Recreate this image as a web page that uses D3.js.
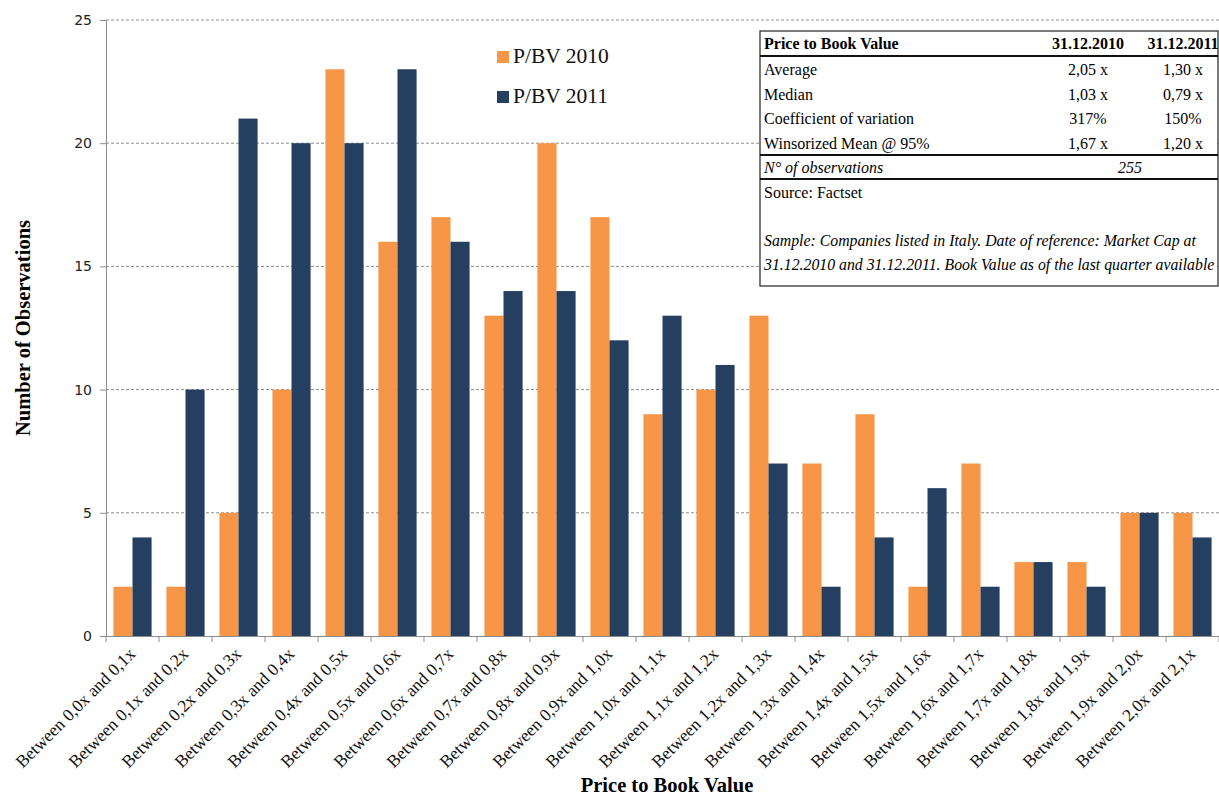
<!DOCTYPE html>
<html>
<head>
<meta charset="utf-8">
<script src="https://cdn.jsdelivr.net/npm/d3@7"></script>
<style>
  body { margin: 0; background: #fff; }
  svg { display: block; }
</style>
</head>
<body>
<svg id="chart"></svg>
<script>
var width = 1219,
    height = 796,
    margin = {top: 20, right: 0, bottom: 160, left: 106};

var categories = ["Between 0,0x and 0,1x", "Between 0,1x and 0,2x", "Between 0,2x and 0,3x",
  "Between 0,3x and 0,4x", "Between 0,4x and 0,5x", "Between 0,5x and 0,6x", "Between 0,6x and 0,7x",
  "Between 0,7x and 0,8x", "Between 0,8x and 0,9x", "Between 0,9x and 1,0x", "Between 1,0x and 1,1x",
  "Between 1,1x and 1,2x", "Between 1,2x and 1,3x", "Between 1,3x and 1,4x", "Between 1,4x and 1,5x",
  "Between 1,5x and 1,6x", "Between 1,6x and 1,7x", "Between 1,7x and 1,8x", "Between 1,8x and 1,9x",
  "Between 1,9x and 2,0x", "Between 2,0x and 2,1x"];
var pbv2010 = [2, 2, 5, 10, 23, 16, 17, 13, 20, 17, 9, 10, 13, 7, 9, 2, 7, 3, 3, 5, 5];
var pbv2011 = [4, 10, 21, 20, 20, 23, 16, 14, 14, 12, 13, 11, 7, 2, 4, 6, 2, 3, 2, 5, 4];
var seriesNames = ["P/BV 2010", "P/BV 2011"];
var seriesColors = ["#F79646", "#243F60"];
var yTicks = [0, 5, 10, 15, 20, 25];

var tableHeader = ["Price to Book Value", "31.12.2010", "31.12.2011"];
var tableRows = [
  ["Average", "2,05 x", "1,30 x"],
  ["Median", "1,03 x", "0,79 x"],
  ["Coefficient of variation", "317%", "150%"],
  ["Winsorized Mean @ 95%", "1,67 x", "1,20 x"]
];
var observations = "255";
var sourceNote = "Source: Factset";
var sampleNote = ["Sample: Companies listed in Italy. Date of reference: Market Cap at",
  "31.12.2010 and 31.12.2011. Book Value as of the last quarter available"];

var serif = "'Liberation Serif', 'DejaVu Serif', serif";
var sans = "'DejaVu Sans', Verdana, sans-serif";

var svg = d3.select("#chart").attr("width", width).attr("height", height);

var x0 = d3.scaleBand().domain(categories)
  .range([margin.left, width - margin.right]).paddingInner(0.28).paddingOuter(0.14);
var x1 = d3.scaleBand().domain([0, 1]).range([0, x0.bandwidth()]);
var y = d3.scaleLinear().domain([0, 25]).range([height - margin.bottom, margin.top]);
var xCat = d3.scaleBand().domain(categories).range([margin.left, width - margin.right]);

// gridlines
svg.append("g").selectAll("line")
  .data(yTicks.filter(function(d) { return d > 0; }))
  .enter().append("line")
  .attr("x1", margin.left).attr("x2", width - margin.right)
  .attr("y1", function(d) { return y(d); }).attr("y2", function(d) { return y(d); })
  .attr("stroke", "#8c8c8c").attr("stroke-width", 1).attr("stroke-dasharray", "3,2");

// bars
var groups = svg.append("g").selectAll("g")
  .data(categories)
  .enter().append("g")
  .attr("transform", function(d) { return "translate(" + x0(d) + ",0)"; });
groups.selectAll("rect")
  .data(function(d, i) { return [pbv2010[i], pbv2011[i]]; })
  .enter().append("rect")
  .attr("x", function(d, i) { return x1(i); })
  .attr("y", function(d) { return y(d); })
  .attr("width", x1.bandwidth())
  .attr("height", function(d) { return y(0) - y(d); })
  .attr("fill", function(d, i) { return seriesColors[i]; });

// y axis
var yAxis = svg.append("g")
  .attr("transform", "translate(" + margin.left + ",0)")
  .call(d3.axisLeft(y).tickValues(yTicks).tickSize(6).tickPadding(8));
yAxis.select(".domain").attr("stroke", "#8c8c8c");
yAxis.selectAll(".tick line").attr("stroke", "#8c8c8c");
yAxis.selectAll(".tick text").attr("font-family", sans).attr("font-size", 14).attr("fill", "#222");

// x axis
var xAxis = svg.append("g")
  .attr("transform", "translate(0," + y(0) + ")")
  .call(d3.axisBottom(xCat).tickSize(0).tickFormat(""));
xAxis.select(".domain").attr("stroke", "#8c8c8c");
svg.append("g").selectAll("line")
  .data(d3.range(categories.length + 1))
  .enter().append("line")
  .attr("x1", function(d) { return margin.left + d * xCat.step(); })
  .attr("x2", function(d) { return margin.left + d * xCat.step(); })
  .attr("y1", y(0)).attr("y2", y(0) + 6)
  .attr("stroke", "#8c8c8c");

svg.append("g").selectAll("text")
  .data(categories)
  .enter().append("text")
  .attr("transform", function(d) {
    return "translate(" + (xCat(d) + xCat.bandwidth() / 2 + 4) + "," + (y(0) + 19) + ") rotate(-45)";
  })
  .attr("text-anchor", "end")
  .attr("font-family", serif).attr("font-size", 17.5).attr("fill", "#111")
  .text(function(d) { return d; });

// axis titles
svg.append("text")
  .attr("transform", "translate(30," + ((margin.top + y(0)) / 2) + ") rotate(-90)")
  .attr("text-anchor", "middle")
  .attr("font-family", serif).attr("font-size", 20.5).attr("font-weight", "bold")
  .text("Number of Observations");
svg.append("text")
  .attr("x", 667).attr("y", 792)
  .attr("text-anchor", "middle")
  .attr("font-family", serif).attr("font-size", 20.5).attr("font-weight", "bold")
  .text("Price to Book Value");

// legend
var legend = svg.append("g").selectAll("g")
  .data(seriesNames)
  .enter().append("g")
  .attr("transform", function(d, i) { return "translate(497," + (51 + i * 40) + ")"; });
legend.append("rect").attr("width", 12).attr("height", 12)
  .attr("fill", function(d, i) { return seriesColors[i]; });
legend.append("text").attr("x", 16).attr("y", 12)
  .attr("font-family", serif).attr("font-size", 21.5).attr("fill", "#111")
  .text(function(d) { return d; });

// stats table
var tbl = svg.append("g");
var tx = 760, tw = width - 1 - tx, ty = 31, th = 255;
var fs = 16;
tbl.append("rect").attr("x", tx).attr("y", ty).attr("width", tw).attr("height", th)
  .attr("fill", "#fff").attr("stroke", "#222").attr("stroke-width", 1.2);
var col2 = 1088, col3 = 1183;
tbl.append("text").attr("x", tx + 4).attr("y", 49)
  .attr("font-family", serif).attr("font-size", fs).attr("font-weight", "bold").text(tableHeader[0]);
tbl.append("text").attr("x", col2).attr("y", 49).attr("text-anchor", "middle")
  .attr("font-family", serif).attr("font-size", fs).attr("font-weight", "bold").text(tableHeader[1]);
tbl.append("text").attr("x", col3).attr("y", 49).attr("text-anchor", "middle")
  .attr("font-family", serif).attr("font-size", fs).attr("font-weight", "bold").text(tableHeader[2]);
[56, 155, 179].forEach(function(ly) {
  tbl.append("line").attr("x1", tx).attr("x2", tx + tw).attr("y1", ly).attr("y2", ly)
    .attr("stroke", "#111").attr("stroke-width", 2);
});
var rows = tbl.selectAll(".row").data(tableRows).enter().append("g")
  .attr("transform", function(d, i) { return "translate(0," + (75 + i * 24.5) + ")"; });
rows.append("text").attr("x", tx + 4)
  .attr("font-family", serif).attr("font-size", fs).text(function(d) { return d[0]; });
rows.append("text").attr("x", col2).attr("text-anchor", "middle")
  .attr("font-family", serif).attr("font-size", fs).text(function(d) { return d[1]; });
rows.append("text").attr("x", col3).attr("text-anchor", "middle")
  .attr("font-family", serif).attr("font-size", fs).text(function(d) { return d[2]; });
tbl.append("text").attr("x", tx + 4).attr("y", 173)
  .attr("font-family", serif).attr("font-size", fs).attr("font-style", "italic").text("N° of observations");
tbl.append("text").attr("x", 1130).attr("y", 173).attr("text-anchor", "middle")
  .attr("font-family", serif).attr("font-size", fs).attr("font-style", "italic").text(observations);
tbl.append("text").attr("x", tx + 4).attr("y", 198)
  .attr("font-family", serif).attr("font-size", fs).text(sourceNote);
tbl.selectAll(".note").data(sampleNote).enter().append("text")
  .attr("x", tx + 4).attr("y", function(d, i) { return 246 + i * 24; })
  .attr("font-family", serif).attr("font-size", 15.8).attr("font-style", "italic")
  .text(function(d) { return d; });
</script>
</body>
</html>
